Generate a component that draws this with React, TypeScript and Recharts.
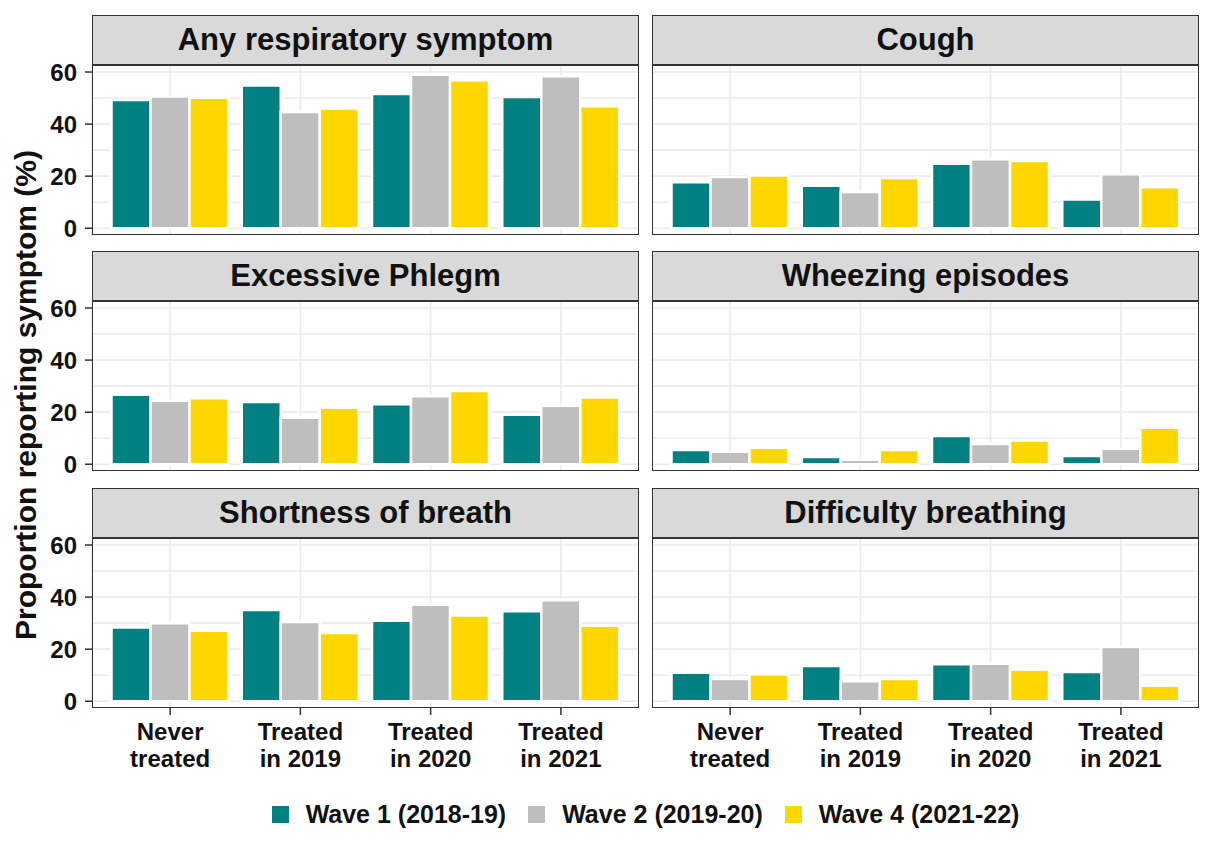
import { Bar, BarChart, CartesianGrid, XAxis, YAxis } from 'recharts'

const CATEGORIES = ['Never treated', 'Treated in 2019', 'Treated in 2020', 'Treated in 2021']
const CATEGORY_LINES = [
  ['Never', 'treated'],
  ['Treated', 'in 2019'],
  ['Treated', 'in 2020'],
  ['Treated', 'in 2021'],
]
const WAVES = ['Wave 1 (2018-19)', 'Wave 2 (2019-20)', 'Wave 4 (2021-22)']
const WAVE_COLORS = ['#008080', '#BEBEBE', '#FFD700']
const Y_TICKS = [0, 20, 40, 60]
const GRID_VALUES = [0, 10, 20, 30, 40, 50, 60]
const Y_DOMAIN = [-2.6, 62.7]

const anyWave1 = [49.3, 54.8, 51.6, 50.4]
const anyWave2 = [50.6, 44.6, 59.0, 58.4]
const anyWave4 = [50.1, 46.0, 56.8, 46.9]

const coughWave1 = [17.7, 16.3, 24.8, 11.0]
const coughWave2 = [19.7, 13.9, 26.5, 20.7]
const coughWave4 = [20.3, 19.3, 25.8, 15.7]

const phlegmWave1 = [26.7, 23.9, 23.0, 19.0]
const phlegmWave2 = [24.4, 17.9, 26.1, 22.5]
const phlegmWave4 = [25.3, 21.7, 28.1, 25.6]

const wheezeWave1 = [5.5, 2.8, 10.8, 3.2]
const wheezeWave2 = [4.8, 1.7, 7.8, 5.9]
const wheezeWave4 = [6.3, 5.5, 9.1, 14.0]

const breathWave1 = [28.3, 35.0, 30.9, 34.6]
const breathWave2 = [30.0, 30.4, 37.1, 38.8]
const breathWave4 = [27.1, 26.2, 32.9, 29.0]

const difficultyWave1 = [10.9, 13.5, 14.2, 11.2]
const difficultyWave2 = [8.5, 7.7, 14.4, 20.8]
const difficultyWave4 = [10.4, 8.5, 12.1, 5.9]

// layout (px)
const PLOT_W = 547
const PLOT_H = 170
const STRIP_H = 50
const COL_X = [92, 652]
const ROW_Y = [15, 251, 488]
const Y_AXIS_W = 60
const X_AXIS_H = 75
const PAD = 14 // room above/below the plot so the 0 and 60 labels are not clipped
const TEXT = '#111'
const BORDER = '#333'

function CategoryTick({ x, y, payload }: any) {
  const lines = CATEGORY_LINES[CATEGORIES.indexOf(payload.value)] ?? [payload.value]
  return (
    <text x={x} y={y} textAnchor="middle" fontSize={24} fontWeight={700} fill={TEXT}>
      {lines.map((line, i) => (
        <tspan key={line} x={x} dy={i === 0 ? 21 : 27}>
          {line}
        </tspan>
      ))}
    </text>
  )
}

// keeps the category ticks (and so the vertical grid) without drawing labels
const NoTick = () => <g />

interface PanelProps {
  title: string
  w1: number[]
  w2: number[]
  w4: number[]
  col: number
  row: number
}

function Panel({ title, w1, w2, w4, col, row }: PanelProps) {
  const showY = col === 0
  const showX = row === 2
  const rows = CATEGORIES.map((name, i) => ({ name, w1: w1[i], w2: w2[i], w4: w4[i] }))
  const plotTop = ROW_Y[row] + STRIP_H
  const chartLeft = COL_X[col] - (showY ? Y_AXIS_W : 0)

  return (
    <>
      <div
        style={{
          position: 'absolute',
          left: COL_X[col],
          top: ROW_Y[row],
          width: PLOT_W,
          height: STRIP_H,
          boxSizing: 'border-box',
          border: `1px solid ${BORDER}`,
          background: '#D9D9D9',
          display: 'flex',
          alignItems: 'center',
          justifyContent: 'center',
          fontSize: 31,
          fontWeight: 700,
          color: TEXT,
        }}
      >
        {title}
      </div>
      <div style={{ position: 'absolute', left: chartLeft, top: plotTop - PAD }}>
        <BarChart
          width={PLOT_W + (showY ? Y_AXIS_W : 0)}
          height={PAD + PLOT_H + (showX ? X_AXIS_H : PAD)}
          data={rows}
          margin={{ top: PAD, right: 0, bottom: showX ? 0 : PAD, left: 0 }}
          barCategoryGap="5%"
          barGap={0}
        >
          <CartesianGrid stroke="#EBEBEB" strokeWidth={1.6} horizontalValues={GRID_VALUES} />
          <XAxis
            dataKey="name"
            padding={{ left: 13, right: 13 }}
            height={showX ? X_AXIS_H : 0}
            axisLine={false}
            tickLine={showX ? { stroke: BORDER, strokeWidth: 1.5 } : false}
            tickSize={7}
            tickMargin={4}
            tick={showX ? <CategoryTick /> : <NoTick />}
            interval={0}
          />
          <YAxis
            type="number"
            domain={Y_DOMAIN}
            allowDataOverflow
            ticks={Y_TICKS}
            interval={0}
            hide={!showY}
            width={Y_AXIS_W}
            axisLine={false}
            tickLine={{ stroke: BORDER, strokeWidth: 1.5 }}
            tickSize={7}
            tickMargin={8}
            tick={{ fontSize: 24, fontWeight: 700, fill: TEXT }}
          />
          <Bar dataKey="w1" name={WAVES[0]} fill={WAVE_COLORS[0]} stroke="#fff" strokeWidth={2.5} isAnimationActive={false} />
          <Bar dataKey="w2" name={WAVES[1]} fill={WAVE_COLORS[1]} stroke="#fff" strokeWidth={2.5} isAnimationActive={false} />
          <Bar dataKey="w4" name={WAVES[2]} fill={WAVE_COLORS[2]} stroke="#fff" strokeWidth={2.5} isAnimationActive={false} />
        </BarChart>
      </div>
      <div
        style={{
          position: 'absolute',
          left: COL_X[col],
          top: plotTop,
          width: PLOT_W,
          height: PLOT_H,
          boxSizing: 'border-box',
          border: `1px solid ${BORDER}`,
          pointerEvents: 'none',
        }}
      />
    </>
  )
}

export default function App() {
  return (
    <div
      style={{
        position: 'absolute',
        left: 0,
        top: 0,
        width: 1219,
        height: 843,
        background: '#fff',
        fontFamily: '"Liberation Sans", Arial, sans-serif',
        color: TEXT,
      }}
    >
      <Panel title="Any respiratory symptom" w1={anyWave1} w2={anyWave2} w4={anyWave4} col={0} row={0} />
      <Panel title="Cough" w1={coughWave1} w2={coughWave2} w4={coughWave4} col={1} row={0} />
      <Panel title="Excessive Phlegm" w1={phlegmWave1} w2={phlegmWave2} w4={phlegmWave4} col={0} row={1} />
      <Panel title="Wheezing episodes" w1={wheezeWave1} w2={wheezeWave2} w4={wheezeWave4} col={1} row={1} />
      <Panel title="Shortness of breath" w1={breathWave1} w2={breathWave2} w4={breathWave4} col={0} row={2} />
      <Panel title="Difficulty breathing" w1={difficultyWave1} w2={difficultyWave2} w4={difficultyWave4} col={1} row={2} />

      <div
        style={{
          position: 'absolute',
          left: 26 - 350,
          top: 395 - 17,
          width: 700,
          height: 34,
          lineHeight: '34px',
          textAlign: 'center',
          fontSize: 30,
          fontWeight: 700,
          transform: 'rotate(-90deg)',
        }}
      >
        Proportion reporting symptom (%)
      </div>

      <div
        style={{
          position: 'absolute',
          left: 92,
          top: 800,
          width: 1107,
          height: 28,
          display: 'flex',
          justifyContent: 'center',
          alignItems: 'center',
          fontSize: 25,
          fontWeight: 700,
        }}
      >
        {WAVES.map((wave, i) => (
          <div key={wave} style={{ display: 'flex', alignItems: 'center', marginRight: i < WAVES.length - 1 ? 22 : 0 }}>
            <span style={{ width: 17, height: 17, background: WAVE_COLORS[i], marginRight: 17 }} />
            <span>{wave}</span>
          </div>
        ))}
      </div>
    </div>
  )
}
